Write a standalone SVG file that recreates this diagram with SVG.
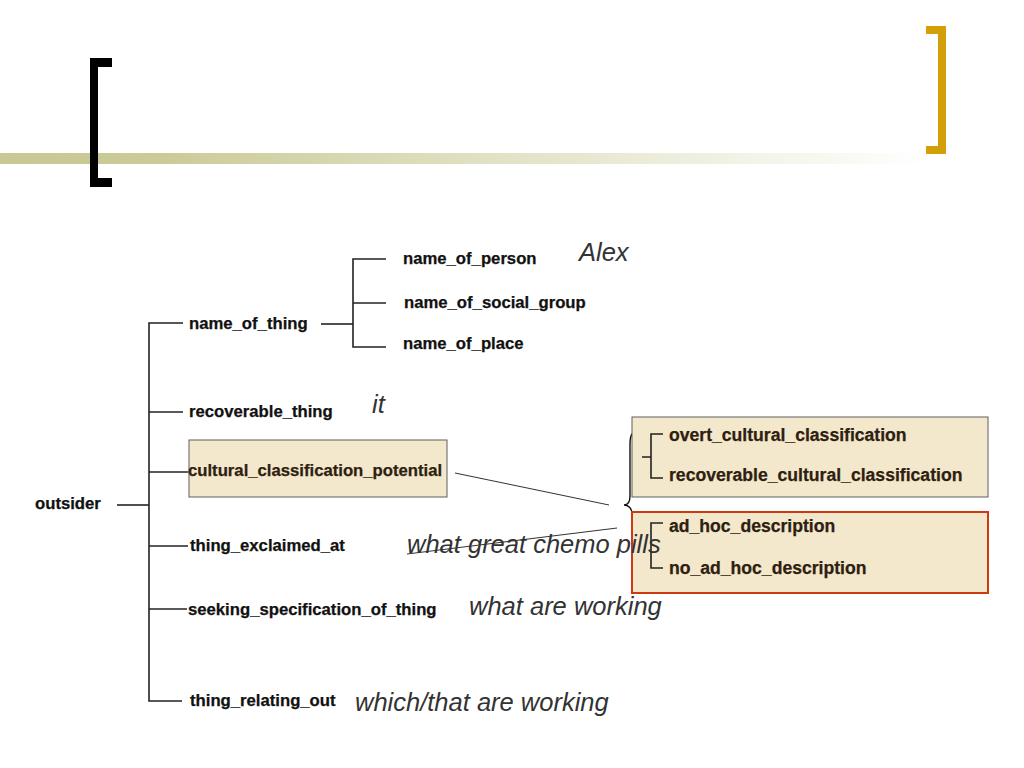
<svg xmlns="http://www.w3.org/2000/svg" width="1024" height="768" viewBox="0 0 1024 768">
<defs>
<linearGradient id="bar" x1="0" y1="0" x2="1" y2="0">
<stop offset="0" stop-color="#C8C893"/>
<stop offset="0.16" stop-color="#CBCB99"/>
<stop offset="0.5" stop-color="#E2E2C6"/>
<stop offset="0.92" stop-color="#FFFFFF"/>
</linearGradient>
<style>
text{font-family:"Liberation Sans",Arial,sans-serif}
.lbl{font-weight:bold;font-size:16.7px;fill:#111;stroke:#111;stroke-width:0.25}
.blbl{font-weight:bold;font-size:16.7px;fill:#2E2010;stroke:#2E2010;stroke-width:0.25}
.ilbl{font-weight:bold;font-size:17.6px;fill:#2E2010;stroke:#2E2010;stroke-width:0.25}
.ex{font-style:italic;font-size:25.5px;fill:#333}
.ln{fill:none;stroke:#222;stroke-width:1.6}
.thin{fill:none;stroke:#333;stroke-width:1}
.box{fill:#F3E8CB;stroke:#5E5E5E;stroke-width:1}
</style>
</defs>
<rect width="1024" height="768" fill="#fff"/>
<g id="header">
<rect x="0" y="153" width="1010" height="11" fill="url(#bar)"/>
<path d="M90,58 H112 V67 H98 V178 H112 V187 H90 Z" fill="#000"/>
<path d="M926,26 H946 V154 H926 V146 H938 V34 H926 Z" fill="#D29F08"/>
</g>
<g id="connectors">
<path class="ln" d="M117,505 H149"/>
<path class="ln" d="M183,323 H149 V701 H182"/>
<path class="ln" d="M149,412 H183"/>
<path class="ln" d="M149,472 H188"/>
<path class="ln" d="M149,546 H188"/>
<path class="ln" d="M149,609 H187"/>
<path class="ln" d="M321,324 H353"/>
<path class="ln" d="M386,259 H353 V347 H386"/>
<path class="ln" d="M353,303 H386"/>
<line class="thin" x1="455" y1="473" x2="609" y2="505"/>
<path fill="none" stroke="#111" stroke-width="1.4" d="M637,431 C631,432 630,437 630,445 L630,496 C630,502 628,505 624,505 C628,505 632,508 632,514 L632,570 C632,575 634,579 637,580"/>
</g>
<g id="outsider"><text class="lbl" x="35" y="509">outsider</text></g>
<g id="name_of_thing"><text class="lbl" x="189" y="329">name_of_thing</text></g>
<g id="name_of_person"><text class="lbl" x="403" y="264">name_of_person</text></g>
<g id="name_of_social_group"><text class="lbl" x="404" y="308">name_of_social_group</text></g>
<g id="name_of_place"><text class="lbl" x="403" y="349">name_of_place</text></g>
<g id="recoverable_thing"><text class="lbl" x="189" y="417">recoverable_thing</text></g>
<g id="cultural_classification_potential">
<rect class="box" x="189" y="440" width="258" height="57"/>
<text class="blbl" x="188" y="476">cultural_classification_potential</text>
</g>
<g id="thing_exclaimed_at"><text class="lbl" x="190" y="551">thing_exclaimed_at</text></g>
<g id="seeking_specification_of_thing"><text class="lbl" x="188" y="615">seeking_specification_of_thing</text></g>
<g id="thing_relating_out"><text class="lbl" x="190" y="706">thing_relating_out</text></g>
<g id="cultural_classification">
<rect class="box" x="632" y="417" width="356" height="80"/>
<path class="ln" d="M642,457 H651 M663,434 H651 V478 H663"/>
<text class="ilbl" x="669" y="441">overt_cultural_classification</text>
<text class="ilbl" x="669" y="481">recoverable_cultural_classification</text>
</g>
<g id="ad_hoc">
<rect x="632" y="512" width="356" height="81" fill="#F3E8CB" stroke="#CC3A14" stroke-width="2"/>
<path class="ln" d="M663,523 H651 V568 H663"/>
<text class="ilbl" x="669" y="532">ad_hoc_description</text>
<text class="ilbl" x="669" y="574">no_ad_hoc_description</text>
</g>
<g id="examples">
<text class="ex" x="579" y="261">Alex</text>
<text class="ex" x="372" y="413">it</text>
<text class="ex" x="407" y="553">what great chemo pills</text>
<text class="ex" x="469" y="615">what are working</text>
<text class="ex" x="355" y="711">which/that are working</text>
<line class="thin" x1="407" y1="554" x2="617" y2="528"/>
</g>
</svg>
